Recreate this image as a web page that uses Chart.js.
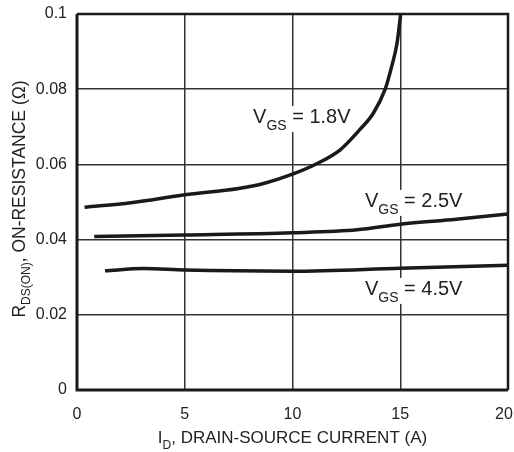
<!DOCTYPE html>
<html>
<head>
<meta charset="utf-8">
<script src="https://cdn.jsdelivr.net/npm/chart.js@4/dist/chart.umd.min.js"></script>
<style>
  html, body { margin: 0; padding: 0; background: #fff; }
  #wrap { width: 514px; height: 452px; }
</style>
</head>
<body>
<div id="wrap"><canvas id="c" width="514" height="452"></canvas></div>
<script>
// Drain current (A) and on-resistance (ohm) for each gate voltage
const id18 = [0.35, 2.5, 5, 7.5, 8.7, 10, 11.1, 12.2, 13.1, 13.75, 14.3, 14.6, 14.85, 15.02];
const r18  = [0.0486, 0.0498, 0.0519, 0.0536, 0.0550, 0.0574, 0.0601, 0.0638, 0.0691, 0.0736, 0.0800, 0.0860, 0.0922, 0.1000];

const id25 = [0.8, 5, 10, 13, 15, 17.6, 20];
const r25  = [0.0408, 0.0412, 0.0418, 0.0426, 0.0441, 0.0454, 0.0468];

const id45 = [1.3, 3.1, 5, 10, 15, 20];
const r45  = [0.0317, 0.0323, 0.0319, 0.0316, 0.0324, 0.0332];

const xTicks = [0, 5, 10, 15, 20];
const xTickText = ['0', '5', '10', '15', '20\u2002']; // trailing space keeps the last label inside the canvas
const yTicks = [0, 0.02, 0.04, 0.06, 0.08, 0.1];
const yTickText = ['0', '0.02', '0.04', '0.06', '0.08', '0.1'];

// Curve labels: main text, subscript, remainder, anchored at (current, resistance)
const curveLabels = [
  { main: 'V', sub: 'GS', rest: ' = 1.8V', x: 8.17, y: 0.0710 },
  { main: 'V', sub: 'GS', rest: ' = 2.5V', x: 13.36, y: 0.0487 },
  { main: 'V', sub: 'GS', rest: ' = 4.5V', x: 13.36, y: 0.0253 }
];

const FONT = '"Liberation Sans", Arial, sans-serif';
const INK = '#1a1a1a';

function pts(xs, ys) { return xs.map((x, i) => ({ x: x, y: ys[i] })); }

function curve(xs, ys) {
  return {
    data: pts(xs, ys),
    showLine: true,
    borderColor: INK,
    borderWidth: 3.5,
    pointRadius: 0,
    cubicInterpolationMode: 'monotone',
    fill: false,
    clip: false
  };
}

// Draws a run of text with an optional subscript part, returns total width
function drawSubText(ctx, x, y, main, sub, rest, size, subSize, subDrop, measureOnly) {
  ctx.font = size + 'px ' + FONT;
  const w1 = ctx.measureText(main).width;
  const w3 = ctx.measureText(rest).width;
  ctx.font = subSize + 'px ' + FONT;
  const w2 = ctx.measureText(sub).width;
  if (!measureOnly) {
    ctx.font = size + 'px ' + FONT;
    ctx.fillText(main, x, y);
    ctx.font = subSize + 'px ' + FONT;
    ctx.fillText(sub, x + w1, y + subDrop);
    ctx.font = size + 'px ' + FONT;
    ctx.fillText(rest, x + w1 + w2, y);
  }
  return w1 + w2 + w3;
}

const textPlugin = {
  id: 'textPlugin',
  beforeDatasetsDraw(chart) {
    const { ctx, scales } = chart;
    ctx.save();
    ctx.textBaseline = 'alphabetic';
    curveLabels.forEach(l => {
      const px = scales.x.getPixelForValue(l.x);
      const py = scales.y.getPixelForValue(l.y);
      const w = drawSubText(ctx, px, py, l.main, l.sub, l.rest, 20, 14, 7, true);
      ctx.fillStyle = '#fff';
      ctx.fillRect(px - 3, py - 17, w + 6, 26);
    });
    ctx.restore();
  },
  afterDatasetsDraw(chart) {
    const { ctx, scales, chartArea } = chart;
    ctx.save();
    ctx.fillStyle = '#222';
    ctx.textBaseline = 'alphabetic';
    curveLabels.forEach(l => {
      const px = scales.x.getPixelForValue(l.x);
      const py = scales.y.getPixelForValue(l.y);
      drawSubText(ctx, px, py, l.main, l.sub, l.rest, 20, 14, 7, false);
    });

    // frame around the plot
    ctx.strokeStyle = INK;
    ctx.lineWidth = 3;
    ctx.beginPath();
    ctx.moveTo(chartArea.left, chartArea.top);
    ctx.lineTo(chartArea.left, chartArea.bottom);
    ctx.lineTo(chartArea.right, chartArea.bottom);
    ctx.stroke();
    ctx.lineWidth = 2.5;
    ctx.beginPath();
    ctx.moveTo(chartArea.left, chartArea.top);
    ctx.lineTo(chartArea.right, chartArea.top);
    ctx.lineTo(chartArea.right, chartArea.bottom);
    ctx.stroke();

    // x axis title
    const xw = drawSubText(ctx, 0, 0, 'I', 'D', ', DRAIN-SOURCE CURRENT (A)', 17, 12, 6, true);
    drawSubText(ctx, (chartArea.left + chartArea.right) / 2 - xw / 2, 443, 'I', 'D', ', DRAIN-SOURCE CURRENT (A)', 17, 12, 6, false);

    // y axis title, rotated
    ctx.translate(25, (chartArea.top + chartArea.bottom) / 2 - 3);
    ctx.rotate(-Math.PI / 2);
    const yw = drawSubText(ctx, 0, 0, 'R', 'DS(ON)', ', ON-RESISTANCE (\u03A9)', 17.5, 12, 5, true);
    drawSubText(ctx, -yw / 2, 0, 'R', 'DS(ON)', ', ON-RESISTANCE (\u03A9)', 17.5, 12, 5, false);
    ctx.restore();
  }
};

new Chart(document.getElementById('c'), {
  type: 'scatter',
  data: {
    datasets: [curve(id18, r18), curve(id25, r25), curve(id45, r45)]
  },
  options: {
    responsive: false,
    animation: false,
    devicePixelRatio: 1,
    layout: { autoPadding: false, padding: { top: 14, right: 6, bottom: 0, left: 0 } },
    plugins: { legend: { display: false }, tooltip: { enabled: false } },
    scales: {
      x: {
        type: 'linear',
        min: 0, max: 20,
        afterFit(s) { s.height = 62; s.paddingLeft = 0; s.paddingRight = 0; },
        afterBuildTicks(s) { s.ticks = xTicks.map(v => ({ value: v })); },
        grid: { color: '#333', lineWidth: 1.5, drawTicks: false },
        border: { display: false },
        ticks: {
          color: '#222', font: { family: FONT, size: 16 }, padding: 15, maxRotation: 0,
          callback: (v, i) => xTickText[i]
        }
      },
      y: {
        type: 'linear',
        min: 0, max: 0.1,
        afterFit(s) { s.width = 77; s.paddingTop = 0; s.paddingBottom = 0; },
        afterBuildTicks(s) { s.ticks = yTicks.map(v => ({ value: v })); },
        grid: { color: '#333', lineWidth: 1.5, drawTicks: false },
        border: { display: false },
        ticks: {
          color: '#222', font: { family: FONT, size: 16 }, padding: 10,
          callback: (v, i) => yTickText[i]
        }
      }
    }
  },
  plugins: [textPlugin]
});
</script>
</body>
</html>
